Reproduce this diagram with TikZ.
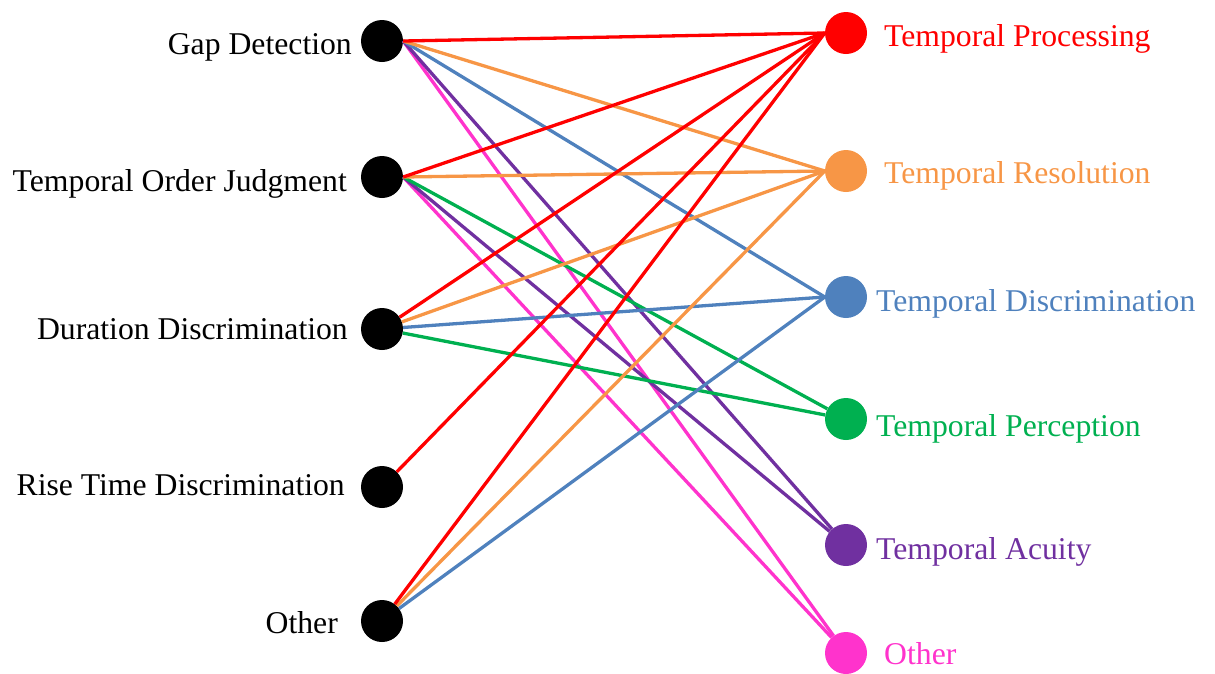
\documentclass[tikz,border=0pt]{standalone}
\usepackage{fontspec}
\setmainfont{Liberation Serif}
\definecolor{cred}{HTML}{FF0000}
\definecolor{corange}{HTML}{F79646}
\definecolor{cblue}{HTML}{4F81BD}
\definecolor{cgreen}{HTML}{00B050}
\definecolor{cpurple}{HTML}{7030A0}
\definecolor{cpink}{HTML}{FF33CC}
\tikzset{
  dot/.style={circle, minimum size=42pt, inner sep=0pt, fill=#1},
  lbl/.style={inner sep=0pt, font=\fontsize{31.7}{38}\selectfont, text=#1},
  link/.style={line width=3.3pt, draw=#1},
}
\begin{document}
\begin{tikzpicture}[x=1pt, y=-1pt]
\useasboundingbox (0,0) rectangle (1215,673);
% left nodes
\node[dot=black] (gd) at (382,41) {};
\node[dot=black] (toj) at (382,177) {};
\node[dot=black] (dd) at (382,329) {};
\node[dot=black] (rt) at (382,487) {};
\node[dot=black] (ol) at (382,621) {};
% right nodes
\node[dot=cred] (tp) at (846,33) {};
\node[dot=corange] (tr) at (846,171) {};
\node[dot=cblue] (td) at (846,297) {};
\node[dot=cgreen] (tpe) at (846,419) {};
\node[dot=cpurple] (ta) at (846,545) {};
\node[dot=cpink] (or) at (846,653) {};
% left labels
\node[lbl=black, anchor=base east] (lgd) at (352,54) {Gap Detection};
\node[lbl=black, anchor=base east] (ltoj) at (347,191) {Temporal Order Judgment};
\node[lbl=black, anchor=base east] (ldd) at (348,339) {Duration Discrimination};
\node[lbl=black, anchor=base east] (lrt) at (345,495) {Rise Time Discrimination};
\node[lbl=black, anchor=base east] (lol) at (338,633) {Other};
% right labels
\node[lbl=cred, anchor=base west] (ltp) at (884,46) {Temporal Processing};
\node[lbl=corange, anchor=base west] (ltr) at (884,183) {Temporal Resolution};
\node[lbl=cblue, anchor=base west] (ltd) at (876,311) {Temporal Discrimination};
\node[lbl=cgreen, anchor=base west] (ltpe) at (876,436) {Temporal Perception};
\node[lbl=cpurple, anchor=base west] (lta) at (876,559) {Temporal Acuity};
\node[lbl=cpink, anchor=base west] (lor) at (884,664) {Other};
% connectors
\draw[link=cpink] (gd.east) -- (or);
\draw[link=cpink] (toj.east) -- (or);
\draw[link=cpurple] (gd.east) -- (ta);
\draw[link=cpurple] (toj.east) -- (ta);
\draw[link=cgreen] (toj.east) -- (tpe);
\draw[link=cgreen] (dd) -- (tpe);
\draw[link=cblue] (gd.east) -- (td.west);
\draw[link=cblue] (dd) -- (td.west);
\draw[link=cblue] (ol) -- (td.west);
\draw[link=corange] (gd.east) -- (tr.west);
\draw[link=corange] (toj.east) -- (tr.west);
\draw[link=corange] (dd) -- (tr.west);
\draw[link=corange] (ol) -- (tr.west);
\draw[link=cred] (gd.east) -- (tp.west);
\draw[link=cred] (toj.east) -- (tp.west);
\draw[link=cred] (dd) -- (tp.west);
\draw[link=cred] (rt) -- (tp.west);
\draw[link=cred] (ol) -- (tp.west);
\end{tikzpicture}
\end{document}
